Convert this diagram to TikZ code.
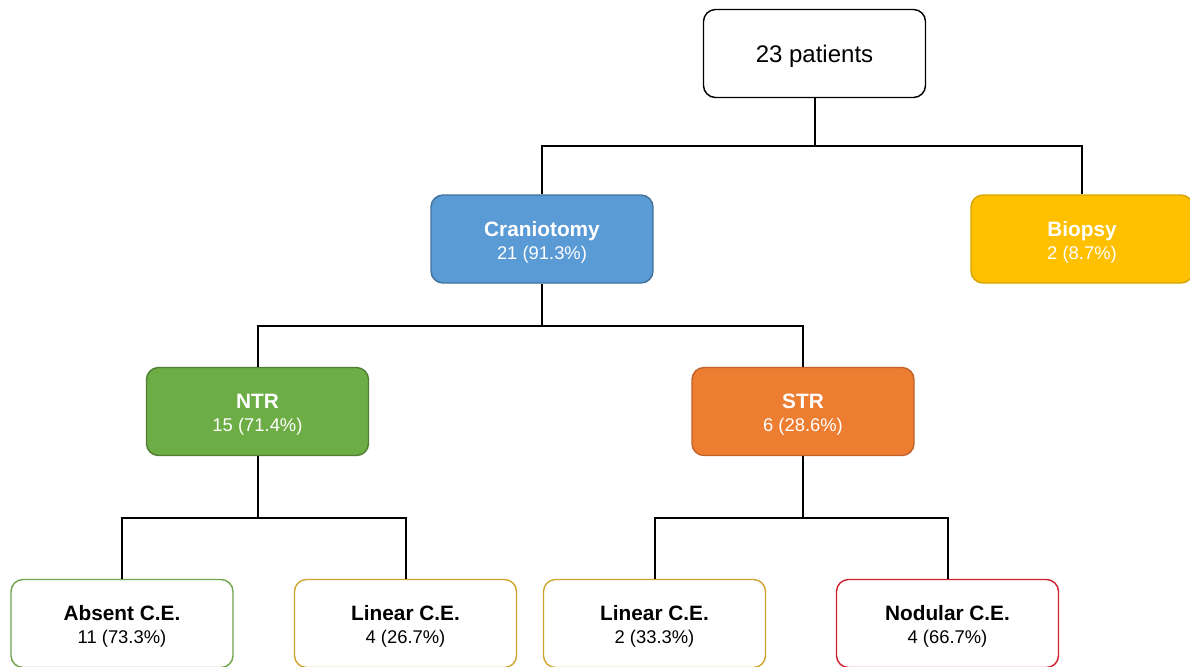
\documentclass[tikz,border=0pt]{standalone}
\usepackage{fontspec}
\setmainfont{Liberation Sans}
\definecolor{bluefill}{HTML}{5B9BD5}
\definecolor{blueline}{HTML}{41719C}
\definecolor{yelfill}{HTML}{FFC000}
\definecolor{yelline}{HTML}{D6A300}
\definecolor{grnfill}{HTML}{6DAD45}
\definecolor{grnline}{HTML}{507E32}
\definecolor{orgfill}{HTML}{ED7D31}
\definecolor{orgline}{HTML}{C0622A}
\definecolor{grnedge}{HTML}{6FA54A}
\definecolor{yeledge}{HTML}{D0A52E}
\definecolor{rededge}{HTML}{D0202E}
\tikzset{
  box/.style={rectangle, rounded corners=6pt, minimum width=111pt, minimum height=44pt,
    line width=0.7pt, align=center, inner sep=2pt},
  topbox/.style={box, draw=black, fill=white, font=\fontsize{12}{14}\selectfont},
  colbox/.style={box, text=white},
  leafbox/.style={box, fill=white, text=black},
  conn/.style={line width=1pt, black}
}
\newcommand{\twol}[2]{{\bfseries\fontsize{10.4}{12}\selectfont\rule{0pt}{10.8pt}#1}\\[-0.5pt]{\fontsize{9.2}{11}\selectfont #2}}
\begin{document}
\begin{tikzpicture}[x=0.5pt,y=-0.5pt]
\useasboundingbox (0,0) rectangle (1190,666);
\clip (0,0) rectangle (1190,666);
\fill[white] (0,0) rectangle (1190,666);
% nodes
\node[topbox] (top) at (814.5,53.5) {\rule{0pt}{11.6pt}23 patients};
\node[colbox, fill=bluefill, draw=blueline] (cran) at (542,239) {\twol{Craniotomy}{21 (91.3\%)}};
\node[colbox, fill=yelfill, draw=yelline] (bio) at (1082,239) {\twol{Biopsy}{2 (8.7\%)}};
\node[colbox, fill=grnfill, draw=grnline] (ntr) at (257.5,411.5) {\twol{NTR}{15 (71.4\%)}};
\node[colbox, fill=orgfill, draw=orgline] (str) at (803,411.5) {\twol{STR}{6 (28.6\%)}};
\node[leafbox, draw=grnedge] (abs) at (122,623.5) {\twol{Absent C.E.}{11 (73.3\%)}};
\node[leafbox, draw=yeledge] (lin1) at (405.5,623.5) {\twol{Linear C.E.}{4 (26.7\%)}};
\node[leafbox, draw=yeledge] (lin2) at (654.5,623.5) {\twol{Linear C.E.}{2 (33.3\%)}};
\node[leafbox, draw=rededge] (nod) at (947.5,623.5) {\twol{Nodular C.E.}{4 (66.7\%)}};
% connectors
\draw[conn] (top.south) -- ++(0,48) coordinate (j1);
\draw[conn] (cran.north) -- (cran.north |- j1) -- (bio.north |- j1) -- (bio.north);
\draw[conn] (cran.south) -- ++(0,42) coordinate (j2);
\draw[conn] (ntr.north) -- (ntr.north |- j2) -- (str.north |- j2) -- (str.north);
\draw[conn] (ntr.south) -- ++(0,62) coordinate (j3);
\draw[conn] (abs.north) -- (abs.north |- j3) -- (lin1.north |- j3) -- (lin1.north);
\draw[conn] (str.south) -- ++(0,62) coordinate (j4);
\draw[conn] (lin2.north) -- (lin2.north |- j4) -- (nod.north |- j4) -- (nod.north);
\end{tikzpicture}
\end{document}
